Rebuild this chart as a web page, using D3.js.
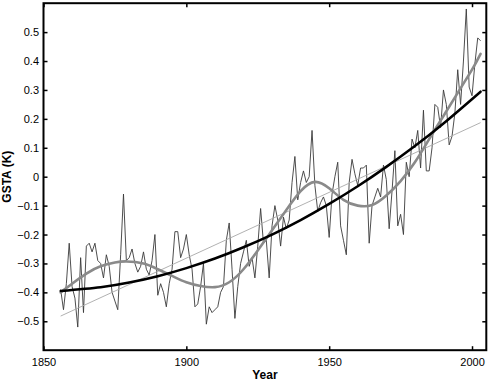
<!DOCTYPE html>
<html>
<head>
<meta charset="utf-8">
<script src="https://cdn.jsdelivr.net/npm/d3@7"></script>
<style>
  html, body { margin: 0; padding: 0; background: #fff; }
  svg { display: block; }
  text { font-family: "Liberation Sans", Arial, Helvetica, sans-serif; }
</style>
</head>
<body>
<svg id="chart" width="488" height="384"></svg>
<script>
// ---- data ----
const firstYear = 1856;
const annualGSTA = [
  -0.39, -0.46, -0.37, -0.23, -0.38, -0.42, -0.52, -0.28, -0.47, -0.24,
  -0.23, -0.26, -0.23, -0.29, -0.30, -0.35, -0.27, -0.31, -0.40, -0.43,
  -0.46, -0.27, -0.06, -0.29, -0.28, -0.25, -0.30, -0.33, -0.31, -0.26,
  -0.32, -0.34, -0.29, -0.20, -0.41, -0.37, -0.40, -0.45, -0.37, -0.32,
  -0.19, -0.19, -0.28, -0.25, -0.20, -0.27, -0.32, -0.45, -0.44, -0.38,
  -0.30, -0.51, -0.45, -0.47, -0.46, -0.45, -0.40, -0.38, -0.22, -0.16,
  -0.32, -0.49, -0.38, -0.30, -0.26, -0.22, -0.31, -0.28, -0.35, -0.24,
  -0.11, -0.23, -0.22, -0.35, -0.17, -0.10, -0.15, -0.24, -0.14, -0.18,
  -0.15, -0.02, 0.07, -0.08, -0.02, 0.02, -0.02, 0.00, 0.16, -0.03,
  -0.12, -0.09, -0.07, -0.10, -0.21, -0.06, 0.00, 0.05, -0.17, -0.22,
  -0.27, -0.02, 0.06, 0.01, -0.03, 0.03, 0.03, 0.04, -0.23, -0.10,
  -0.07, -0.04, -0.07, 0.04, -0.01, -0.18, -0.05, 0.09, -0.17, -0.13,
  -0.20, 0.05, 0.00, 0.13, 0.10, 0.16, 0.03, 0.23, 0.02, 0.02,
  0.10, 0.25, 0.24, 0.17, 0.30, 0.25, 0.11, 0.14, 0.22, 0.37,
  0.25, 0.40, 0.58, 0.31, 0.28, 0.39, 0.48, 0.47
];
const annualYears = annualGSTA.map((_, i) => firstYear + i);

// smooth (grey, thick) curve
const smoothYears  = [1856, 1860, 1865, 1870, 1875, 1879, 1885, 1890, 1895, 1900, 1905, 1910, 1915, 1920, 1925, 1930, 1935, 1940, 1945, 1950, 1955, 1960, 1965, 1970, 1975, 1980, 1985, 1990, 1995, 2000, 2003];
const smoothValues = [-0.40, -0.37, -0.335, -0.31, -0.297, -0.293, -0.30, -0.32, -0.343, -0.365, -0.378, -0.382, -0.365, -0.32, -0.255, -0.185, -0.115, -0.05, -0.018, -0.04, -0.08, -0.10, -0.098, -0.065, -0.015, 0.05, 0.13, 0.21, 0.29, 0.37, 0.425];

// quadratic fit (black, thick)
const quadYears  = [1856, 1870, 1880, 1890, 1900, 1910, 1920, 1930, 1940, 1950, 1960, 1970, 1980, 1990, 2003];
const quadValues = [-0.395, -0.382, -0.366, -0.344, -0.316, -0.283, -0.244, -0.200, -0.150, -0.094, -0.033, 0.034, 0.106, 0.184, 0.294];

// linear trend (thin light grey)
const linYears  = [1856, 2003];
const linValues = [-0.482, 0.187];

const xTicks = [1850, 1900, 1950, 2000];
const yTicks = [-0.5, -0.4, -0.3, -0.2, -0.1, 0, 0.1, 0.2, 0.3, 0.4, 0.5];

// ---- layout ----
const svg = d3.select("#chart");
const L = 43.5, R = 486.3, T = 3.2, B = 350.2;
const x = d3.scaleLinear().domain([1850, 2005]).range([L, R]);
const y = d3.scaleLinear().domain([-0.6, 0.6]).range([B, T]);

svg.append("clipPath").attr("id", "plotclip")
  .append("rect").attr("x", L).attr("y", T).attr("width", R - L).attr("height", B - T);

const g = svg.append("g").attr("clip-path", "url(#plotclip)");

const line = d3.line().x(d => x(d[0])).y(d => y(d[1]));
const smoothLine = d3.line().x(d => x(d[0])).y(d => y(d[1])).curve(d3.curveNatural);

// annual series
g.append("path")
  .datum(annualYears.map((yr, i) => [yr, annualGSTA[i]]))
  .attr("d", line).attr("fill", "none")
  .attr("stroke", "#3a3a3a").attr("stroke-width", 0.9).attr("stroke-linejoin", "round");

// linear trend
g.append("path")
  .datum(linYears.map((yr, i) => [yr, linValues[i]]))
  .attr("d", line).attr("fill", "none")
  .attr("stroke", "#a8a8a8").attr("stroke-width", 0.9);

// smooth grey
g.append("path")
  .datum(smoothYears.map((yr, i) => [yr, smoothValues[i]]))
  .attr("d", smoothLine).attr("fill", "none")
  .attr("stroke", "#8a8a8a").attr("stroke-width", 2.6).attr("stroke-linecap", "round");

// quadratic black
g.append("path")
  .datum(quadYears.map((yr, i) => [yr, quadValues[i]]))
  .attr("d", smoothLine).attr("fill", "none")
  .attr("stroke", "#000").attr("stroke-width", 2.5).attr("stroke-linecap", "round");

// ---- axes (box with inward ticks on all four sides) ----
const tickLen = 4;
const axesG = svg.append("g");
const fmt = v => v === 0 ? "0" : d3.format(".1f")(v);

const axLeft = d3.axisLeft(y).tickValues(yTicks).tickSizeInner(-tickLen).tickSizeOuter(0).tickPadding(4.5).tickFormat(fmt);
axesG.append("g").attr("transform", `translate(${L},0)`).call(axLeft)
  .call(a => a.select(".domain").remove())
  .call(a => a.selectAll("line").attr("stroke", "#000").attr("stroke-width", 1.5))
  .call(a => a.selectAll("text").attr("font-size", 11).attr("fill", "#000").attr("font-family", "Liberation Sans, Arial, sans-serif"));

const axRight = d3.axisRight(y).tickValues(yTicks).tickSizeInner(-tickLen).tickSizeOuter(0).tickFormat("");
axesG.append("g").attr("transform", `translate(${R},0)`).call(axRight)
  .call(a => a.select(".domain").remove())
  .call(a => a.selectAll("line").attr("stroke", "#000").attr("stroke-width", 1.5));

const axBottom = d3.axisBottom(x).tickValues(xTicks).tickSizeInner(-tickLen).tickSizeOuter(0).tickPadding(8).tickFormat(d3.format("d"));
axesG.append("g").attr("transform", `translate(0,${B})`).call(axBottom)
  .call(a => a.select(".domain").remove())
  .call(a => a.selectAll("line").attr("stroke", "#000").attr("stroke-width", 1.5))
  .call(a => a.selectAll("text").attr("font-size", 11).attr("fill", "#000").attr("font-family", "Liberation Sans, Arial, sans-serif"));

const axTop = d3.axisTop(x).tickValues(xTicks).tickSizeInner(-tickLen).tickSizeOuter(0).tickFormat("");
axesG.append("g").attr("transform", `translate(0,${T})`).call(axTop)
  .call(a => a.select(".domain").remove())
  .call(a => a.selectAll("line").attr("stroke", "#000").attr("stroke-width", 1.5));

// frame
svg.append("rect").attr("x", L).attr("y", T).attr("width", R - L).attr("height", B - T)
  .attr("fill", "none").attr("stroke", "#000").attr("stroke-width", 2);

// axis titles
svg.append("text").attr("x", (L + R) / 2).attr("y", 379)
  .attr("text-anchor", "middle").attr("font-size", 12).attr("font-weight", "bold").text("Year");
svg.append("text").attr("transform", `translate(11,${(T + B) / 2}) rotate(-90)`)
  .attr("text-anchor", "middle").attr("font-size", 12).attr("font-weight", "bold").text("GSTA (K)");
</script>
</body>
</html>
